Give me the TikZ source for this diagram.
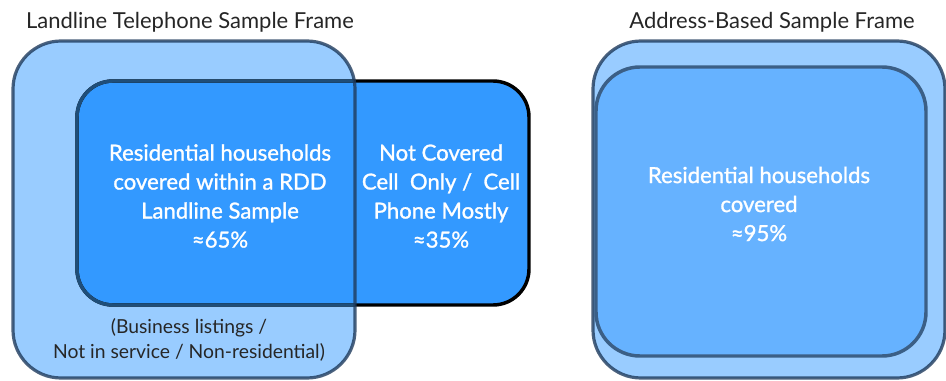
\documentclass[tikz,border=0pt]{standalone}
\usepackage{fontspec}
\setmainfont{Lato}
\definecolor{framefill}{RGB}{153,204,255}
\definecolor{frameline}{RGB}{30,58,92}
\definecolor{rddfill}{RGB}{51,153,255}
\definecolor{rddline}{RGB}{31,78,121}
\definecolor{absfill}{RGB}{102,178,255}
\definecolor{absline}{RGB}{59,95,134}
\usetikzlibrary{positioning}

\begin{document}
\begin{tikzpicture}[x=0.75pt, y=-0.75pt,
  frame/.style={fill=framefill, rounded corners=36pt},
  frameedge/.style={draw=frameline, draw opacity=0.8, line width=2.4pt, rounded corners=36pt},
  rdd/.style={fill=rddfill, draw=black, line width=2.6pt, rounded corners=27pt},
  absbox/.style={fill=absfill, draw=absline, line width=2.6pt, rounded corners=33pt},
  heading/.style={font=\fontsize{16.5}{19}\selectfont, text=black!85},
  inlabel/.style={font=\fontsize{16.6}{21.75}\selectfont\addfontfeatures{FakeBold=1.2}, text=white, align=center},
  note/.style={font=\fontsize{14.5}{18.75}\selectfont, text=black!85, align=center}
]
\useasboundingbox (0,0) rectangle (946,381);

% landline frame and RDD box
\path[frame] (13,41) rectangle (355,378);
\path[rdd] (77,81) rectangle (529,305);
\begin{scope}
  \clip[rounded corners=36pt] (13,41) rectangle (355,378);
  \draw[rdd, fill=none, draw=rddline] (77,81) rectangle (529,305);
\end{scope}
\path[frameedge] (13,41) rectangle (355,378);

% address-based frame
\path[frame, frameedge] (593,41) rectangle (945,378);
\path[absbox] (596,67) rectangle (926,356);

\node[heading] (landtitle) at (190,22) {Landline Telephone Sample Frame};
\node[heading] (abstitle) at (772,22) {Address-Based Sample Frame};

\node[inlabel] (rddtext) at (220,196) {Residential households\\covered within a RDD\\Landline Sample\\≈65\%};
\node[inlabel] (celltext) at (441,196) {Not Covered\\Cell\ \ Only /\ \ Cell\\Phone Mostly\\≈35\%};
\node[note] (bizlist) at (189,340) {(Business listings /\\Not in service / Non-residential)};

\node[inlabel] (abstext) at (759,204) {Residential households\\covered\\≈95\%};
\end{tikzpicture}
\end{document}
